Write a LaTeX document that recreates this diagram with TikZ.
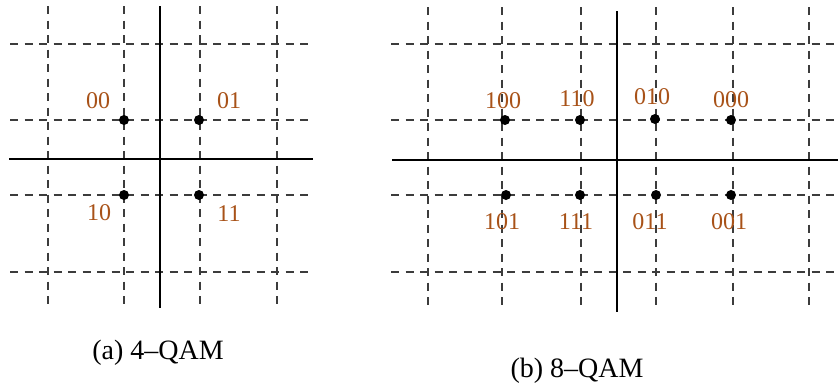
\documentclass[tikz,border=0pt]{standalone}
\usepackage{fontspec}
\setmainfont{Liberation Serif}
\definecolor{lbl}{RGB}{168,82,24}
\definecolor{gridgray}{RGB}{60,60,60}
\tikzset{
  gridline/.style={draw=gridgray, line width=1.2pt, dash pattern=on 8pt off 6.5pt},
  axisline/.style={draw=black, line width=2.5pt},
  dotpt/.style={circle, fill=black, inner sep=0pt, minimum size=10pt},
  bits/.style={text=lbl, font=\fontsize{24}{24}\selectfont, inner sep=0pt},
  captext/.style={font=\fontsize{28}{28}\selectfont, inner sep=0pt}
}
\begin{document}
\begin{tikzpicture}[x=1pt,y=-1pt]
\useasboundingbox (0,0) rectangle (838,386);
% ---- (a) 4-QAM ----
\foreach \x in {48,124,200,277}{\draw[gridline] (\x,6) -- (\x,307);}
\foreach \y in {44,120,195,272}{\draw[gridline] (10,\y) -- (313,\y);}
\draw[axisline] (160,6) -- (160,308);
\draw[axisline] (9,159) -- (313,159);
\node[dotpt] (a00) at (124,120) {};
\node[dotpt] (a01) at (199,120) {};
\node[dotpt] (a10) at (124,195) {};
\node[dotpt] (a11) at (199,195) {};
\node[bits] (la00) at (98,101) {00};
\node[bits] (la01) at (229,101) {01};
\node[bits] (la10) at (99,213) {10};
\node[bits] (la11) at (229,214) {11};
\node[captext] (capa) at (158,353) {(a) 4--QAM};
% ---- (b) 8-QAM ----
\foreach \x in {428,502,581,656,733,809}{\draw[gridline] (\x,7) -- (\x,308);}
\foreach \y in {44,120,195,272}{\draw[gridline] (391,\y) -- (838,\y);}
\draw[axisline] (617,11) -- (617,312);
\draw[axisline] (392,160) -- (838,160);
\node[dotpt] (b100) at (505,120) {};
\node[dotpt] (b110) at (580,120) {};
\node[dotpt] (b010) at (655,119) {};
\node[dotpt] (b000) at (731,120) {};
\node[dotpt] (b101) at (506,195) {};
\node[dotpt] (b111) at (580,195) {};
\node[dotpt] (b011) at (656,195) {};
\node[dotpt] (b001) at (731,195) {};
\node[bits] (lb100) at (503,101) {100};
\node[bits] (lb110) at (577,99) {110};
\node[bits] (lb010) at (652,97) {010};
\node[bits] (lb000) at (731,100) {000};
\node[bits] (lb101) at (502,222) {101};
\node[bits] (lb111) at (576,222) {111};
\node[bits] (lb011) at (650,222) {011};
\node[bits] (lb001) at (729,222) {001};
\node[captext] (capb) at (577,371) {(b) 8--QAM};
\end{tikzpicture}
\end{document}
